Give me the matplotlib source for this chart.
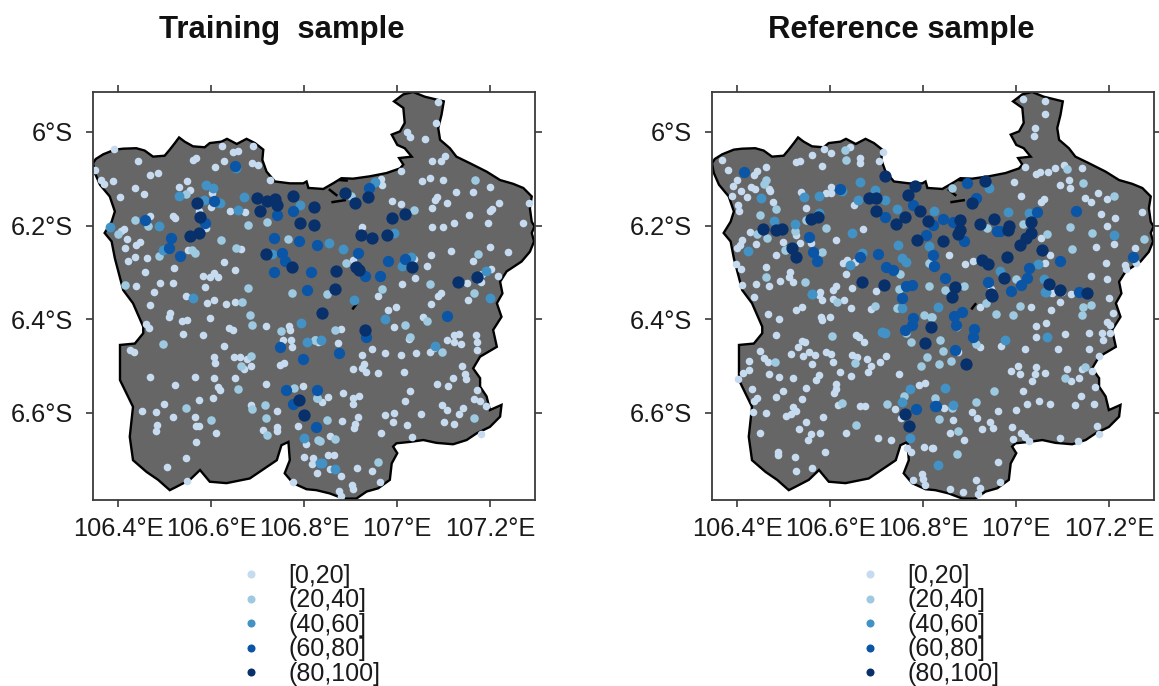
import matplotlib
matplotlib.use('Agg')
import matplotlib.pyplot as plt
from matplotlib.lines import Line2D

plt.rcParams['font.family'] = ['Liberation Sans', 'DejaVu Sans']

class_labels = ['[0,20]', '(20,40]', '(40,60]', '(60,80]', '(80,100]']
class_colors = ['#C6DBEF', '#9ECAE1', '#4292C6', '#0A55A6', '#08306B']
class_sizes = [30, 38, 50, 66, 78]

lon_ticks = [106.4, 106.6, 106.8, 107.0, 107.2]
lon_labels = ['106.4°E', '106.6°E', '106.8°E', '107°E', '107.2°E']
lat_ticks = [6.0, 6.2, 6.4, 6.6]
lat_labels = ['6°S', '6.2°S', '6.4°S', '6.6°S']

# outline of the region, lon/lat (south positive)
outline = [
    (106.346, 6.067), (106.352, 6.058), (106.368, 6.048), (106.393, 6.038), (106.411, 6.036), (106.439, 6.035),
    (106.457, 6.040), (106.475, 6.053), (106.500, 6.051), (106.511, 6.038), (106.522, 6.024), (106.531, 6.012),
    (106.543, 6.021), (106.561, 6.031), (106.586, 6.033), (106.597, 6.024), (106.622, 6.021), (106.634, 6.015),
    (106.655, 6.026), (106.676, 6.015), (106.694, 6.024), (106.712, 6.038), (106.710, 6.060), (106.719, 6.085),
    (106.737, 6.106), (106.769, 6.110), (106.798, 6.110), (106.805, 6.106), (106.809, 6.120), (106.812, 6.120),
    (106.841, 6.122), (106.862, 6.110), (106.880, 6.099), (106.905, 6.100), (106.941, 6.095), (106.977, 6.088),
    (107.006, 6.078), (107.013, 6.070), (107.004, 6.056), (107.031, 6.053), (107.016, 6.035), (107.000, 6.028),
    (106.988, 6.006), (107.006, 5.999), (107.016, 5.981), (107.013, 5.949), (106.993, 5.935), (107.013, 5.920),
    (107.034, 5.915), (107.059, 5.925), (107.100, 5.935), (107.095, 5.964), (107.088, 5.992), (107.092, 6.017),
    (107.113, 6.035), (107.127, 6.053), (107.156, 6.067), (107.192, 6.085), (107.221, 6.103), (107.249, 6.111),
    (107.271, 6.120), (107.289, 6.138), (107.285, 6.163), (107.289, 6.192), (107.295, 6.202), (107.289, 6.216),
    (107.294, 6.234), (107.285, 6.256), (107.267, 6.277), (107.235, 6.298), (107.221, 6.320), (107.226, 6.345),
    (107.214, 6.366), (107.224, 6.395), (107.206, 6.423), (107.214, 6.459), (107.178, 6.480), (107.163, 6.505),
    (107.178, 6.526), (107.178, 6.544), (107.192, 6.565), (107.199, 6.594), (107.224, 6.583), (107.221, 6.608),
    (107.199, 6.630), (107.170, 6.644), (107.149, 6.658), (107.120, 6.667), (107.084, 6.664), (107.056, 6.658),
    (107.027, 6.662), (106.998, 6.665), (106.991, 6.672), (107.000, 6.686), (106.988, 6.708), (106.984, 6.743),
    (106.959, 6.761), (106.934, 6.768), (106.912, 6.783), (106.884, 6.783), (106.855, 6.772), (106.826, 6.765),
    (106.805, 6.763), (106.776, 6.750), (106.758, 6.729), (106.769, 6.701), (106.766, 6.662), (106.751, 6.669),
    (106.741, 6.701), (106.683, 6.740), (106.633, 6.750), (106.597, 6.747), (106.576, 6.722), (106.554, 6.743),
    (106.525, 6.758), (106.511, 6.765), (106.486, 6.743), (106.461, 6.726), (106.432, 6.701), (106.425, 6.651),
    (106.432, 6.587), (106.404, 6.530), (106.404, 6.455), (106.436, 6.452), (106.454, 6.430), (106.454, 6.416),
    (106.432, 6.366), (106.411, 6.338), (106.393, 6.270), (106.386, 6.234), (106.371, 6.216), (106.386, 6.192),
    (106.393, 6.170), (106.382, 6.138), (106.361, 6.113), (106.350, 6.088),
]
inland_water = [
    [(106.861, 6.150), (106.887, 6.146)],
    [(106.855, 6.124), (106.869, 6.135)],
    [(106.877, 6.103), (106.891, 6.104)],
    [(106.905, 6.377), (106.912, 6.368)],
]

train_1 = [
    (106.391,6.037),(106.443,6.062),(106.561,6.061),(106.568,6.055),(106.624,6.030),(106.647,6.043),(106.658,6.041),
    (106.690,6.030),(106.628,6.063),(106.608,6.076),(106.688,6.066),(106.700,6.071),(106.350,6.081),(106.364,6.103),
    (106.369,6.112),(106.388,6.105),(106.469,6.093),(106.486,6.088),(106.547,6.105),(106.530,6.118),(106.436,6.121),
    (106.455,6.133),(106.403,6.140),(106.554,6.125),(106.601,6.131),(106.727,6.103),(106.599,6.160),(106.640,6.170),
    (106.673,6.172),(106.573,6.170),(106.469,6.179),(106.517,6.179),(106.523,6.184),(106.589,6.206),(106.413,6.207),
    (106.407,6.211),(106.420,6.229),(106.447,6.235),(106.439,6.241),(106.414,6.248),(106.437,6.268),(106.422,6.276),
    (106.462,6.269),(106.520,6.290),(106.457,6.299),(106.551,6.253),(106.627,6.278),(106.665,6.250),(106.652,6.294),
    (106.583,6.307),(106.606,6.302),(106.597,6.311),(106.614,6.311),(106.491,6.322),(106.518,6.323),(106.439,6.330),
    (106.586,6.332),(106.477,6.341),
    (107.088,5.937),(107.083,5.981),(107.021,6.000),(107.027,6.012),(107.059,6.016),(107.102,6.052),(107.095,6.063),
    (107.074,6.063),(107.009,6.083),(106.964,6.101),(106.968,6.113),(107.070,6.098),(107.054,6.105),(107.099,6.103),
    (107.200,6.118),(107.126,6.129),(107.163,6.129),(107.086,6.140),(107.080,6.145),(107.107,6.152),(107.219,6.152),
    (107.283,6.151),(106.989,6.147),(107.007,6.155),(107.074,6.163),(107.154,6.177),(107.204,6.165),(107.199,6.169),
    (107.122,6.194),(107.196,6.194),(107.271,6.194),(107.074,6.203),(107.099,6.203),(106.925,6.204),(107.200,6.246),
    (107.238,6.256),(107.115,6.254),(107.072,6.263),(107.163,6.275),(107.064,6.286),(107.036,6.271),(106.905,6.273),
    (107.202,6.292),(107.182,6.303),(107.217,6.308),(107.039,6.313),(107.150,6.322),(107.181,6.321),(107.010,6.324),
    (107.095,6.345),(107.088,6.350),
    (106.545,6.350),(106.468,6.370),(106.591,6.365),(106.606,6.358),(106.632,6.368),(106.652,6.363),(106.511,6.387),
    (106.510,6.396),(106.538,6.403),(106.548,6.401),(106.598,6.397),(106.718,6.415),(106.459,6.411),(106.467,6.419),
    (106.639,6.419),(106.647,6.424),(106.768,6.415),(106.769,6.423),(106.539,6.432),(106.583,6.434),(106.627,6.457),
    (106.755,6.444),(106.772,6.444),(106.774,6.460),(106.425,6.466),(106.435,6.469),(106.607,6.480),(106.609,6.493),
    (106.649,6.481),(106.663,6.481),(106.678,6.484),(106.685,6.499),(106.671,6.507),(106.748,6.498),(106.756,6.494),
    (106.469,6.523),(106.523,6.540),(106.565,6.523),(106.605,6.525),(106.651,6.526),(106.615,6.545),(106.620,6.551),
    (106.718,6.539),(106.798,6.543),(106.573,6.573),(106.603,6.568),(106.498,6.580),(106.452,6.595),(106.482,6.598),
    (106.685,6.584),(106.741,6.595),(106.517,6.609),(106.566,6.608),(106.484,6.625),(106.482,6.638),(106.568,6.629),
    (106.574,6.629),(106.611,6.642),(106.712,6.637),(106.741,6.630),(106.741,6.638),(106.786,6.628),(106.568,6.663),
    (106.804,6.666),(106.545,6.696),(106.505,6.715),(106.548,6.745),(106.800,6.694),(106.819,6.697),(106.817,6.709),
    (106.828,6.728),(106.775,6.748),(106.830,6.448),
    (106.959,6.350),(106.979,6.381),(106.998,6.375),(107.073,6.368),(107.056,6.395),(106.994,6.416),(106.879,6.421),
    (106.835,6.447),(106.872,6.450),(107.025,6.442),(107.107,6.445),(107.121,6.434),(107.132,6.432),(107.121,6.449),
    (107.137,6.454),(107.170,6.434),(107.171,6.448),(107.172,6.466),(107.079,6.461),(107.070,6.471),(107.041,6.472),
    (107.009,6.477),(106.973,6.473),(106.945,6.463),(106.925,6.477),(106.905,6.506),(106.929,6.496),(106.925,6.505),
    (106.932,6.512),(106.958,6.515),(107.015,6.512),(107.140,6.499),(107.145,6.518),(107.147,6.528),(107.120,6.525),
    (107.086,6.539),(107.110,6.542),(107.171,6.551),(107.028,6.554),(107.016,6.575),(106.883,6.558),(106.904,6.569),
    (106.917,6.565),(106.904,6.582),(106.851,6.567),(106.839,6.577),(107.097,6.583),(107.107,6.594),(107.141,6.589),
    (107.132,6.602),(107.165,6.570),(107.177,6.574),(107.191,6.585),(106.973,6.605),(106.994,6.600),(106.991,6.620),
    (107.020,6.625),(107.051,6.602),(107.101,6.619),(107.122,6.623),(106.915,6.609),(106.909,6.623),(106.906,6.632),
    (106.881,6.618),(106.965,6.644),(107.032,6.652),(107.181,6.645),(106.856,6.649),(106.851,6.691),(106.864,6.689),
    (106.856,6.720),(106.878,6.735),(106.913,6.718),(106.946,6.724),(106.963,6.748),(106.902,6.755),(106.905,6.763),
    (106.875,6.766),(106.880,6.778),(107.153,6.358),
]
train_2 = [
    (106.545,6.133),(106.437,6.189),(106.464,6.202),(106.399,6.218),(106.621,6.231),(106.680,6.199),(106.719,6.192),
    (106.766,6.229),(106.653,6.247),(106.566,6.259),(106.558,6.252),(106.488,6.265),(106.414,6.328),(106.680,6.334),
    (106.773,6.345),(106.900,6.136),(107.168,6.102),(107.035,6.167),(106.889,6.281),(107.173,6.261),(106.968,6.336),
    (107.071,6.325),(107.165,6.345),(106.667,6.363),(106.684,6.390),(106.688,6.413),(106.750,6.425),(106.496,6.454),
    (106.685,6.478),(106.664,6.499),(106.657,6.549),(106.545,6.590),(106.599,6.615),(106.688,6.592),(106.716,6.583),
    (106.718,6.612),(106.720,6.647),(106.779,6.546),(106.827,6.569),(106.824,6.444),(106.830,6.658),(106.848,6.347),
    (107.016,6.412),(107.063,6.403),(107.027,6.437),(107.097,6.471),(106.866,6.423),(106.823,6.444),(106.828,6.569),
    (107.165,6.612),(106.850,6.615),(106.834,6.659),(106.867,6.656),(106.959,6.704),
]
train_3 = [
    (106.654,6.077),(106.589,6.114),(106.604,6.120),(106.531,6.138),(106.584,6.145),(106.619,6.151),(106.611,6.149),
    (106.670,6.140),(106.657,6.167),(106.790,6.157),(106.488,6.202),(106.383,6.204),(106.497,6.252),(106.731,6.261),
    (106.953,6.108),(106.994,6.216),(106.853,6.237),(106.884,6.251),(107.029,6.268),(107.020,6.281),(107.011,6.286),
    (107.191,6.297),(107.199,6.355),(106.561,6.355),(106.793,6.409),(106.806,6.448),(106.799,6.653),(106.834,6.708),
    (106.908,6.358),(106.973,6.400),(107.081,6.457),(106.837,6.444),(106.838,6.708),(106.867,6.720),
]
train_4 = [
    (106.651,6.074),(106.606,6.147),(106.457,6.189),(106.586,6.194),(106.514,6.226),(106.510,6.248),(106.534,6.265),
    (106.742,6.177),(106.775,6.168),(106.736,6.226),(106.788,6.234),(106.827,6.241),(106.753,6.259),(106.758,6.275),
    (106.734,6.300),(106.815,6.300),(106.805,6.338),(106.940,6.120),(106.916,6.258),(106.980,6.276),(107.016,6.272),
    (106.930,6.308),(106.962,6.308),(106.747,6.459),(106.797,6.484),(106.760,6.551),(106.776,6.580),(106.827,6.551),
    (106.825,6.631),(107.106,6.393),(106.932,6.437),(106.874,6.473),
]
train_5 = [
    (106.570,6.151),(106.576,6.181),(106.573,6.216),(106.554,6.223),(106.698,6.142),(106.719,6.147),(106.738,6.144),
    (106.741,6.157),(106.706,6.168),(106.776,6.136),(106.821,6.161),(106.790,6.195),(106.821,6.199),(106.718,6.260),
    (106.773,6.289),(106.887,6.130),(106.909,6.151),(106.938,6.139),(107.016,6.175),(106.988,6.184),(106.922,6.221),
    (106.945,6.226),(106.977,6.221),(106.912,6.288),(106.917,6.295),(106.869,6.297),(107.031,6.288),(107.131,6.321),
    (107.172,6.310),(106.866,6.336),(106.789,6.573),(106.800,6.604),(106.839,6.387),(106.930,6.423),
]

ref_1 = [
    (106.368,6.061),(106.380,6.081),(106.400,6.102),(106.391,6.115),(106.409,6.127),(106.389,6.137),(106.422,6.140),
    (106.443,6.083),(106.436,6.092),(106.462,6.075),(106.429,6.117),(106.438,6.122),(106.402,6.156),(106.404,6.169),
    (106.468,6.122),(106.470,6.127),(106.477,6.150),(106.526,6.065),(106.535,6.062),(106.562,6.049),(106.583,6.072),
    (106.587,6.037),(106.602,6.045),(106.643,6.033),(106.664,6.055),(106.664,6.067),(106.713,6.044),(106.706,6.063),
    (106.538,6.129),(106.601,6.118),(106.601,6.131),(106.590,6.131),(106.652,6.156),(106.549,6.163),(106.427,6.213),
    (106.526,6.220),(106.411,6.231),(106.407,6.241),(106.400,6.248),(106.440,6.239),(106.498,6.236),(106.536,6.237),
    (106.558,6.238),(106.670,6.208),(106.613,6.231),(106.483,6.263),(106.504,6.252),(106.397,6.282),(106.409,6.293),
    (106.462,6.289),(106.513,6.300),(106.511,6.309),(106.520,6.320),(106.492,6.318),(106.441,6.324),(106.411,6.328),
    (106.468,6.330),(106.627,6.281),(106.637,6.273),(106.653,6.277),(106.634,6.303),(106.579,6.341),(106.613,6.330),
    (106.606,6.338),(106.646,6.334),(106.699,6.340),
    (107.014,5.931),(107.062,5.934),(107.062,5.962),(107.040,5.991),(107.038,6.009),(107.018,6.075),(107.042,6.090),
    (107.052,6.086),(107.069,6.085),(107.084,6.077),(107.102,6.071),(107.142,6.078),(106.996,6.107),(107.114,6.103),
    (107.095,6.114),(107.116,6.120),(107.176,6.131),(107.148,6.142),(107.160,6.150),(107.196,6.144),(107.011,6.138),
    (107.060,6.143),(107.054,6.150),(107.182,6.175),(107.213,6.183),(107.196,6.200),(107.270,6.172),(107.210,6.240),
    (107.171,6.246),(107.255,6.248),(107.054,6.226),(107.073,6.263),(107.062,6.280),(107.192,6.280),(107.258,6.281),
    (107.233,6.284),(107.235,6.292),(106.855,6.264),(106.890,6.283),(106.908,6.276),(107.161,6.307),(107.194,6.315),
    (106.946,6.335),(107.077,6.345),(107.098,6.341),(107.117,6.347),
    (106.436,6.353),(106.467,6.389),(106.490,6.400),(106.527,6.380),(106.540,6.375),(106.581,6.395),(106.583,6.402),
    (106.599,6.395),(106.576,6.348),(106.583,6.359),(106.607,6.357),(106.630,6.359),(106.645,6.376),(106.687,6.378),
    (106.483,6.434),(106.540,6.446),(106.545,6.449),(106.655,6.434),(106.662,6.439),(106.672,6.449),(106.449,6.467),
    (106.457,6.482),(106.467,6.491),(106.530,6.460),(106.516,6.474),(106.541,6.479),(106.555,6.470),(106.567,6.476),
    (106.592,6.470),(106.601,6.474),(106.607,6.491),(106.560,6.496),(106.646,6.476),(106.658,6.480),(106.679,6.484),
    (106.708,6.491),(106.719,6.478),(106.425,6.489),(106.425,6.508),(106.412,6.515),(106.402,6.527),(106.468,6.518),
    (106.490,6.524),(106.520,6.525),(106.622,6.513),(106.645,6.521),(106.687,6.501),(106.681,6.512),(106.748,6.518),
    (106.576,6.520),(106.569,6.530),(106.612,6.538),(106.612,6.548),(106.609,6.558),(106.549,6.546),(106.431,6.548),
    (106.498,6.554),(106.483,6.567),(106.540,6.570),(106.443,6.569),(106.437,6.575),(106.617,6.583),(106.665,6.585),
    (106.675,6.585),(106.434,6.598),(106.461,6.600),(106.520,6.587),(106.526,6.597),(106.515,6.603),(106.504,6.607),
    (106.584,6.608),(106.547,6.619),(106.533,6.634),(106.449,6.642),(106.558,6.645),(106.579,6.644),(106.553,6.658),
    (106.635,6.642),(106.703,6.653),(106.731,6.657),(106.739,6.592),(106.752,6.610),(106.791,6.540),(106.804,6.537),
    (106.589,6.684),(106.488,6.684),(106.487,6.690),(106.524,6.694),(106.526,6.725),(106.560,6.717),(106.766,6.676),
    (106.773,6.683),(106.801,6.672),(106.820,6.674),(106.797,6.731),(106.800,6.742),(106.778,6.743),(106.804,6.754),
    (107.199,6.354),(107.208,6.386),(107.196,6.405),(107.201,6.412),(107.185,6.430),(107.201,6.429),(107.187,6.444),
    (107.156,6.430),(107.156,6.464),(107.178,6.478),(107.162,6.511),(107.142,6.507),(107.110,6.506),(107.135,6.526),
    (107.118,6.531),(107.169,6.545),(107.139,6.563),(107.127,6.583),(107.166,6.581),(107.072,6.580),(107.049,6.575),
    (107.022,6.582),(107.089,6.464),(107.105,6.432),(107.063,6.409),(107.042,6.414),(107.043,6.437),(107.074,6.380),
    (107.032,6.374),(107.094,6.364),(107.019,6.464),(106.967,6.458),(106.923,6.459),(107.043,6.502),(107.003,6.501),
    (106.989,6.511),(107.009,6.518),(107.040,6.518),(107.062,6.514),(107.034,6.532),(107.015,6.554),(107.000,6.594),
    (106.960,6.596),(106.905,6.598),(106.915,6.612),(106.943,6.619),(106.926,6.634),(106.949,6.632),(106.991,6.630),
    (107.010,6.642),(106.993,6.656),(107.018,6.652),(107.027,6.659),(107.094,6.654),(107.132,6.660),(107.174,6.628),
    (107.177,6.645),(106.857,6.642),(106.888,6.657),(106.819,6.674),(106.864,6.615),(106.844,6.590),(106.914,6.743),
    (106.966,6.748),(106.857,6.763),(106.885,6.768),(106.922,6.761),(106.918,6.773),(106.960,6.704),(106.872,6.417),
    (106.875,6.469),(106.923,6.373),
]
ref_2 = [
    (106.631,6.039),(106.635,6.061),(106.463,6.103),(106.457,6.111),(106.484,6.165),(106.450,6.177),(106.549,6.188),
    (106.590,6.206),(106.442,6.219),(106.465,6.226),(106.524,6.211),(106.583,6.257),(106.502,6.253),(106.462,6.309),
    (106.546,6.320),(106.751,6.304),(106.748,6.335),(106.812,6.330),(106.812,6.281),(106.861,6.121),(107.108,6.080),
    (107.143,6.110),(107.209,6.137),(106.937,6.206),(107.014,6.197),(107.067,6.219),(107.115,6.204),(107.163,6.217),
    (107.275,6.229),(107.119,6.250),(107.000,6.315),(106.887,6.329),(106.846,6.337),(106.615,6.364),(106.696,6.371),
    (106.802,6.392),(106.818,6.395),(106.603,6.436),(106.481,6.491),(106.653,6.493),(106.625,6.578),(106.723,6.581),
    (106.656,6.625),(106.809,6.480),(106.796,6.501),(106.759,6.565),(106.762,6.430),(106.773,6.448),(106.744,6.377),
    (107.009,6.372),(106.956,6.389),(106.993,6.391),(107.143,6.373),(107.160,6.370),(107.142,6.390),(106.837,6.444),
    (106.843,6.467),(106.859,6.489),(106.833,6.496),(106.914,6.454),(107.104,6.526),(107.148,6.503),(106.953,6.553),
    (106.913,6.576),(106.825,6.569),(106.862,6.590),(106.834,6.613),(106.874,6.639),(106.872,6.687),(106.816,6.395),
    (106.934,6.366),
]
ref_3 = [
    (106.665,6.108),(106.452,6.142),(106.544,6.140),(106.577,6.137),(106.625,6.127),(106.696,6.125),(106.718,6.145),
    (106.660,6.145),(106.744,6.165),(106.823,6.170),(106.576,6.173),(106.479,6.190),(106.524,6.197),(106.646,6.216),
    (106.812,6.244),(106.746,6.241),(106.424,6.255),(106.669,6.258),(106.642,6.284),(106.755,6.270),(106.762,6.277),
    (106.560,6.347),(106.941,6.120),(106.983,6.172),(107.027,6.174),(107.211,6.221),(106.964,6.297),(107.046,6.282),
    (107.060,6.315),(107.062,6.341),(106.561,6.347),(106.712,6.427),(106.718,6.430),(106.754,6.377),(106.771,6.548),
    (106.755,6.576),(106.772,6.654),(106.831,6.373),(106.975,6.445),(107.067,6.437),(106.846,6.546),(106.864,6.583),
    (106.832,6.711),(107.063,6.343),
]
ref_4 = [
    (106.414,6.085),(106.622,6.122),(106.554,6.225),(106.563,6.256),(106.571,6.275),(106.665,6.268),(106.703,6.261),
    (106.717,6.181),(106.777,6.157),(106.807,6.220),(106.820,6.199),(106.820,6.263),(106.721,6.289),(106.734,6.295),
    (106.762,6.329),(106.775,6.327),(106.823,6.286),(106.895,6.110),(106.914,6.142),(107.044,6.171),(107.129,6.169),
    (106.842,6.186),(106.864,6.193),(106.959,6.211),(106.966,6.211),(106.888,6.234),(107.094,6.275),(107.251,6.268),
    (107.027,6.290),(106.847,6.312),(107.022,6.313),(107.011,6.327),(106.939,6.321),(106.989,6.340),(107.135,6.342),
    (106.755,6.355),(106.778,6.398),(106.775,6.412),(106.760,6.424),(106.784,6.592),(106.825,6.585),(106.866,6.393),
    (106.884,6.384),(106.870,6.412),(106.909,6.420),(106.906,6.437),(106.828,6.585),(106.868,6.466),
]
ref_5 = [
    (106.717,6.095),(106.783,6.115),(106.767,6.134),(106.683,6.142),(106.698,6.142),(106.698,6.168),(106.793,6.170),
    (106.741,6.196),(106.761,6.182),(106.811,6.190),(106.787,6.231),(106.456,6.208),(106.483,6.210),(106.497,6.208),
    (106.558,6.187),(106.574,6.182),(106.517,6.248),(106.527,6.267),(106.668,6.321),(106.716,6.327),(106.932,6.106),
    (106.904,6.152),(106.879,6.189),(106.879,6.209),(106.875,6.218),(106.842,6.234),(106.923,6.197),(106.953,6.186),
    (106.984,6.200),(106.982,6.209),(107.031,6.193),(107.031,6.215),(107.020,6.227),(107.008,6.241),(107.056,6.253),
    (106.981,6.268),(106.927,6.273),(106.939,6.283),(106.973,6.313),(106.868,6.332),(107.071,6.325),(107.151,6.345),
    (107.095,6.338),(106.946,6.347),(106.816,6.416),(106.804,6.450),(106.761,6.602),(106.769,6.628),(106.947,6.350),
    (106.862,6.353),(106.891,6.496),
]


def draw_panel(ax, title, groups):
    xs = [p[0] for p in outline]
    ys = [p[1] for p in outline]
    ax.fill(xs, ys, facecolor='#666666', edgecolor='black', linewidth=1.7, zorder=1)
    for seg in inland_water:
        ax.plot([p[0] for p in seg], [p[1] for p in seg], color='black', linewidth=1.8, zorder=1.5)
    for pts, col, size in zip(groups, class_colors, class_sizes):
        ax.scatter([p[0] for p in pts], [p[1] for p in pts], s=size, c=col, linewidths=0, zorder=2)
    ax.set_xlim(106.346, 107.296)
    ax.set_ylim(6.786, 5.915)
    ax.set_xticks(lon_ticks)
    ax.set_xticklabels(lon_labels)
    ax.set_yticks(lat_ticks)
    ax.set_yticklabels(lat_labels)
    ax.tick_params(axis='both', which='both', direction='out', length=5, width=1.2, color='#3a3a3a',
                   labelsize=18.3, top=True, right=True, labelcolor='#1a1a1a')
    ax.tick_params(axis='x', pad=7.5)
    ax.tick_params(axis='y', pad=9.4)
    for s in ax.spines.values():
        s.set_linewidth(1.3)
        s.set_color('#3a3a3a')
    fig = ax.figure
    pos = ax.get_position()
    fig.text(pos.x0 + pos.width * 0.428, 1 - 30 / 686, title, fontsize=22.4, fontweight='bold',
             ha='center', va='center', color='#111111')
    handles = [Line2D([], [], linestyle='none', marker='o', markersize=5.8, markerfacecolor=c,
                      markeredgewidth=0) for c in class_colors]
    ax.legend(handles, class_labels, loc='upper left', bbox_to_anchor=(0.302, -0.157), frameon=False,
              fontsize=18, labelspacing=0.016, handletextpad=0.47, borderpad=0, borderaxespad=0,
              labelcolor='#1a1a1a')


fig = plt.figure(figsize=(11.59, 6.86), dpi=100)
ax1 = fig.add_axes([93 / 1159, 186 / 686, 442 / 1159, 408 / 686])
ax2 = fig.add_axes([712 / 1159, 186 / 686, 442 / 1159, 408 / 686])
draw_panel(ax1, 'Training  sample', [train_1, train_2, train_3, train_4, train_5])
draw_panel(ax2, 'Reference sample', [ref_1, ref_2, ref_3, ref_4, ref_5])
fig.savefig('out.png', dpi=100)
